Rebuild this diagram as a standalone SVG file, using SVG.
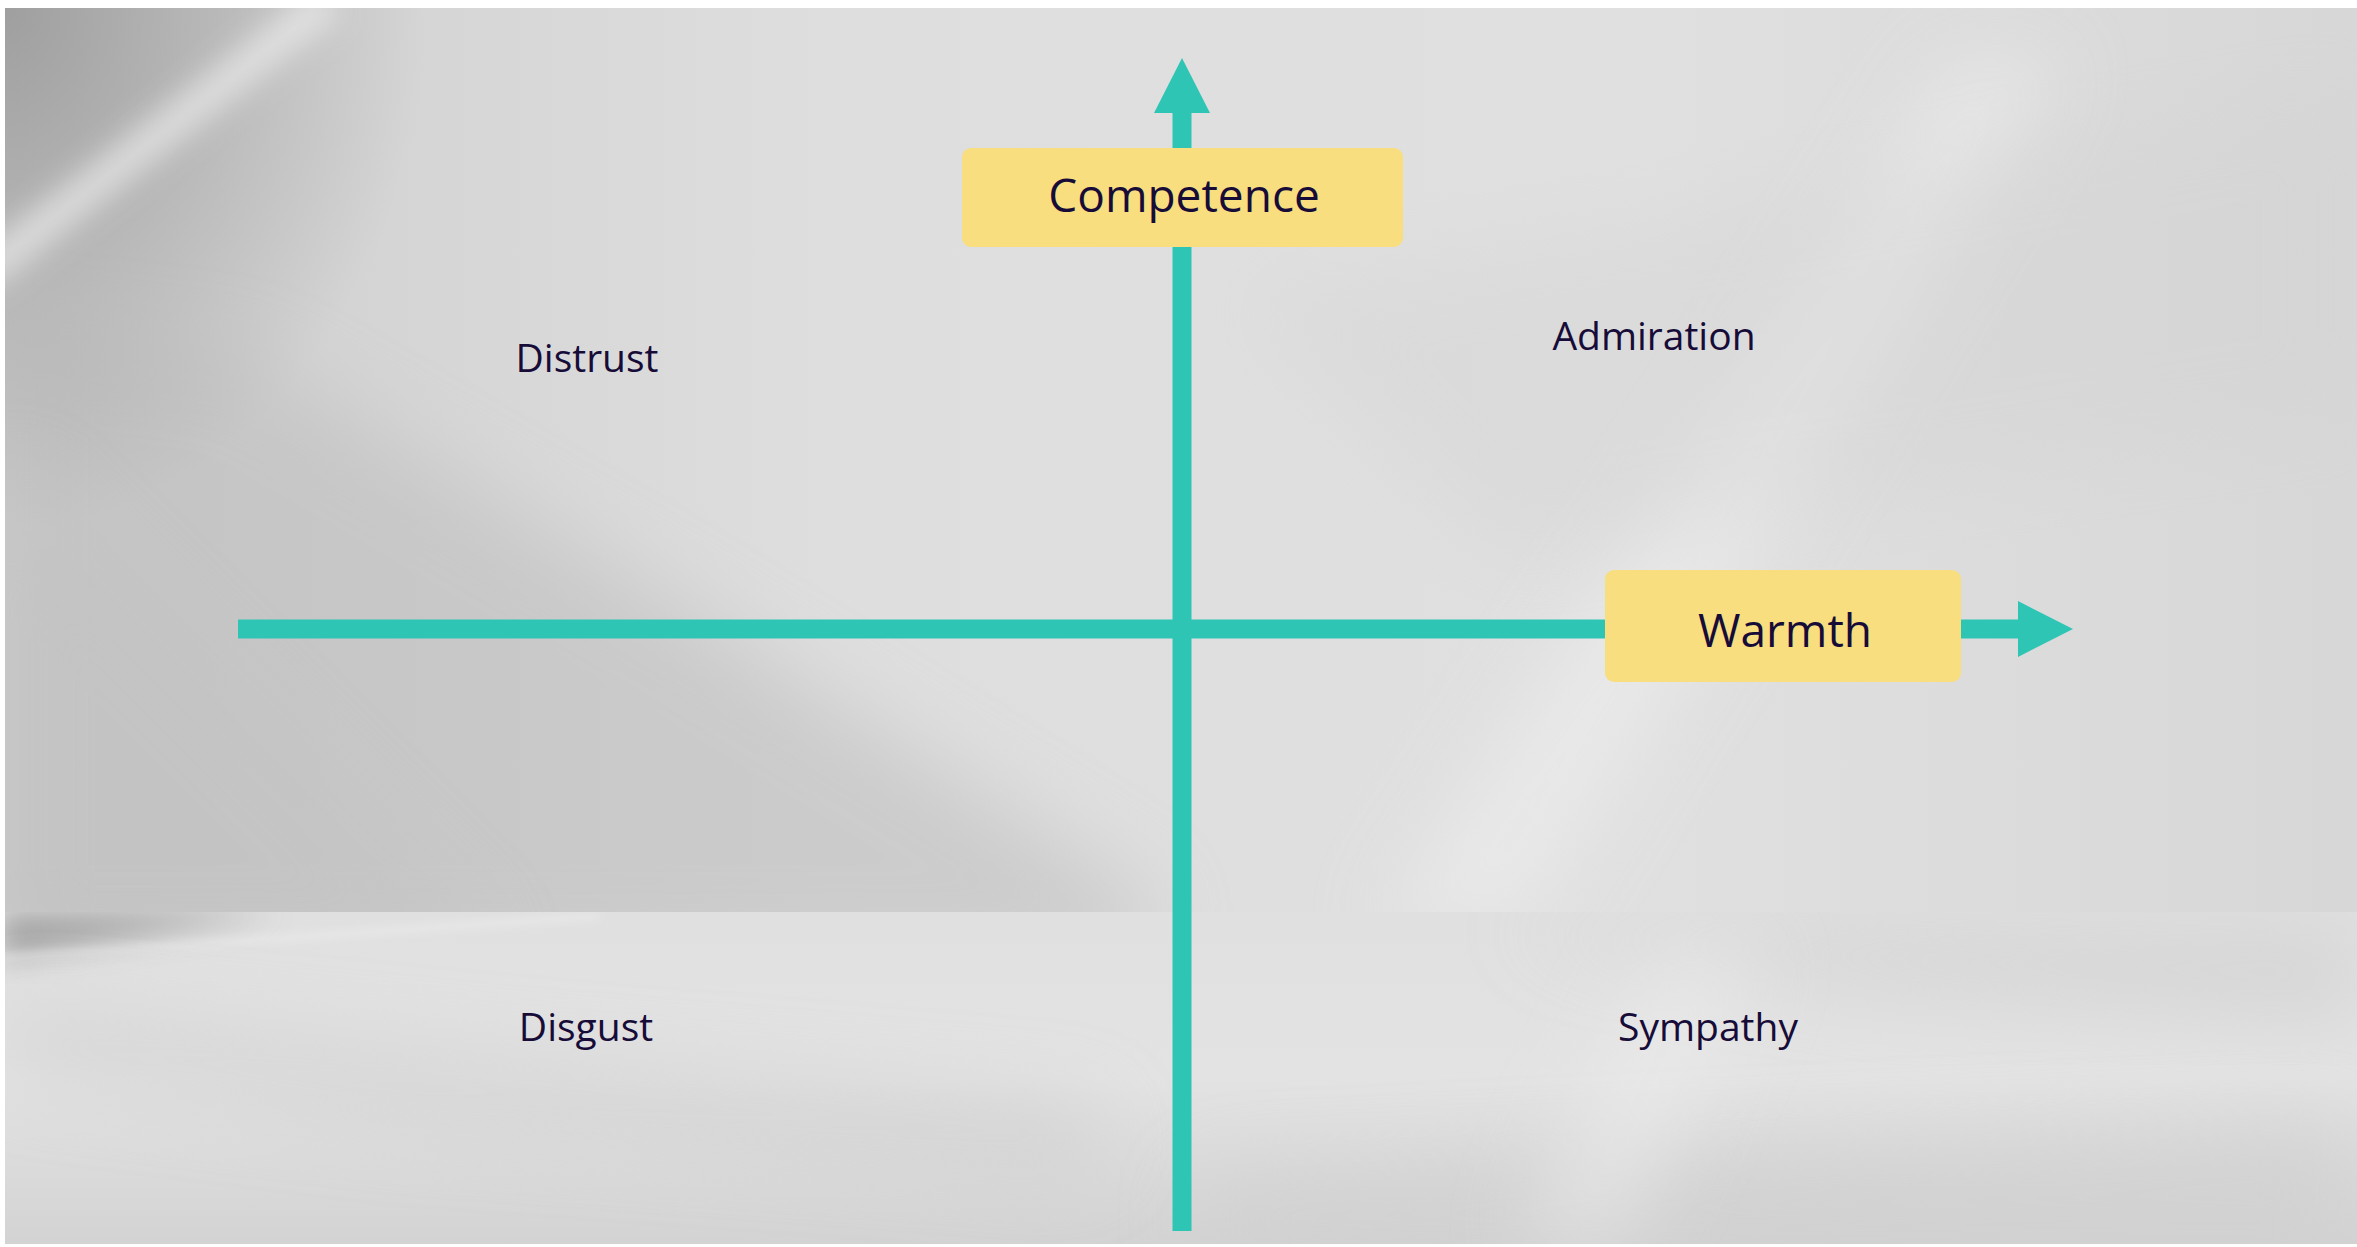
<svg xmlns="http://www.w3.org/2000/svg" width="2357" height="1247" viewBox="0 0 2357 1247">
  <defs>
    <style>
      .axis { stroke: #2FC5B5; stroke-width: 19; fill: none; stroke-linecap: butt; }
      .box { fill: #F8DE7E; }
      .lbl { font-family: "Open Sans", "Noto Sans", sans-serif; fill: #170C38; text-anchor: middle; }
      .axisLbl { font-size: 46px; }
      .quad { font-size: 39px; }
    </style>
    <marker id="arrow" markerUnits="userSpaceOnUse" markerWidth="56" markerHeight="57" refX="0" refY="28" orient="auto" viewBox="0 0 56 57">
      <path d="M0,0 L55,28 L0,56 Z" fill="#2FC5B5"/>
    </marker>
    <linearGradient id="wall" x1="0" y1="0" x2="1" y2="0">
      <stop offset="0" stop-color="#cdcdcd"/>
      <stop offset="0.35" stop-color="#dedede"/>
      <stop offset="0.7" stop-color="#e0e0e0"/>
      <stop offset="1" stop-color="#d7d7d7"/>
    </linearGradient>
    <linearGradient id="floor" x1="0" y1="0" x2="0" y2="1">
      <stop offset="0" stop-color="#e0e0e0"/>
      <stop offset="0.5" stop-color="#e3e3e3"/>
      <stop offset="1" stop-color="#d3d3d3"/>
    </linearGradient>
    <radialGradient id="corner" cx="0" cy="0" r="1" gradientUnits="userSpaceOnUse" gradientTransform="translate(5,8) scale(420,520)">
      <stop offset="0" stop-color="#9a9a9a" stop-opacity="0.9"/>
      <stop offset="1" stop-color="#9a9a9a" stop-opacity="0"/>
    </radialGradient>
    <filter id="blur40" x="-50%" y="-50%" width="200%" height="200%">
      <feGaussianBlur stdDeviation="40"/>
    </filter>
    <filter id="blur15" x="-50%" y="-50%" width="200%" height="200%">
      <feGaussianBlur stdDeviation="15"/>
    </filter>
    <filter id="blur4" x="-50%" y="-50%" width="200%" height="200%">
      <feGaussianBlur stdDeviation="4"/>
    </filter>
    <clipPath id="wallClip"><rect x="5" y="8" width="2352" height="904"/></clipPath>
    <clipPath id="floorClip"><rect x="5" y="912" width="2352" height="332"/></clipPath>
  </defs>

  <g id="background">
    <rect x="0" y="0" width="2357" height="1247" fill="#ffffff"/>
    <g clip-path="url(#wallClip)">
      <rect x="5" y="8" width="2352" height="904" fill="url(#wall)"/>
      <polygon points="0,330 250,360 700,620 1150,900 1150,960 0,960" fill="#bdbdbd" opacity="0.55" filter="url(#blur40)"/>
      <polygon points="0,460 0,960 500,960" fill="#c2c2c2" opacity="0.5" filter="url(#blur40)"/>
      <rect x="5" y="8" width="600" height="700" fill="url(#corner)"/>
      <line x1="330" y1="0" x2="-20" y2="275" stroke="#f0f0f0" stroke-width="34" opacity="0.7" filter="url(#blur15)"/>
      <polygon points="1960,60 2060,60 1520,930 1380,930" fill="#ededed" opacity="0.7" filter="url(#blur40)"/>
      <polygon points="1250,300 2357,80 2357,420 1500,560" fill="#d2d2d2" opacity="0.35" filter="url(#blur40)"/>
    </g>
    <g clip-path="url(#floorClip)">
      <rect x="5" y="912" width="2352" height="332" fill="url(#floor)"/>
      <polygon points="0,912 280,912 0,960" fill="#8a8a8a" opacity="0.7" filter="url(#blur15)"/>
      <line x1="0" y1="958" x2="600" y2="916" stroke="#f2f2f2" stroke-width="6" opacity="0.5" filter="url(#blur4)"/>
      <polygon points="0,1010 500,1060 1100,1110 1100,1170 400,1120 0,1070" fill="#cbcbcb" opacity="0.6" filter="url(#blur40)"/>
      <polygon points="1500,930 2357,930 2357,1020 1900,990" fill="#cdcdcd" opacity="0.6" filter="url(#blur40)"/>
      <polygon points="1200,1180 2357,1120 2357,1260 1200,1260" fill="#cfcfcf" opacity="0.6" filter="url(#blur40)"/>
      <polygon points="1660,950 1760,950 1620,1244 1520,1244" fill="#ececec" opacity="0.6" filter="url(#blur40)"/>
    </g>
  </g>

  <g id="connectors">
    <line id="axis-competence" class="axis" x1="1182" y1="1231" x2="1182" y2="113" marker-end="url(#arrow)"/>
    <line id="axis-warmth" class="axis" x1="238" y1="629" x2="2018" y2="629" marker-end="url(#arrow)"/>
  </g>

  <g id="node-competence">
    <rect class="box" x="962" y="148" width="441" height="99" rx="9"/>
    <text class="lbl axisLbl" x="1184" y="212">Competence</text>
  </g>
  <g id="node-warmth">
    <rect class="box" x="1605" y="570" width="356" height="112" rx="9"/>
    <text class="lbl axisLbl" x="1785" y="647">Warmth</text>
  </g>
  <g id="node-distrust">
    <text class="lbl quad" x="587" y="372">Distrust</text>
  </g>
  <g id="node-admiration">
    <text class="lbl quad" x="1654" y="350">Admiration</text>
  </g>
  <g id="node-disgust">
    <text class="lbl quad" x="586" y="1041">Disgust</text>
  </g>
  <g id="node-sympathy">
    <text class="lbl quad" x="1708" y="1041">Sympathy</text>
  </g>
</svg>
